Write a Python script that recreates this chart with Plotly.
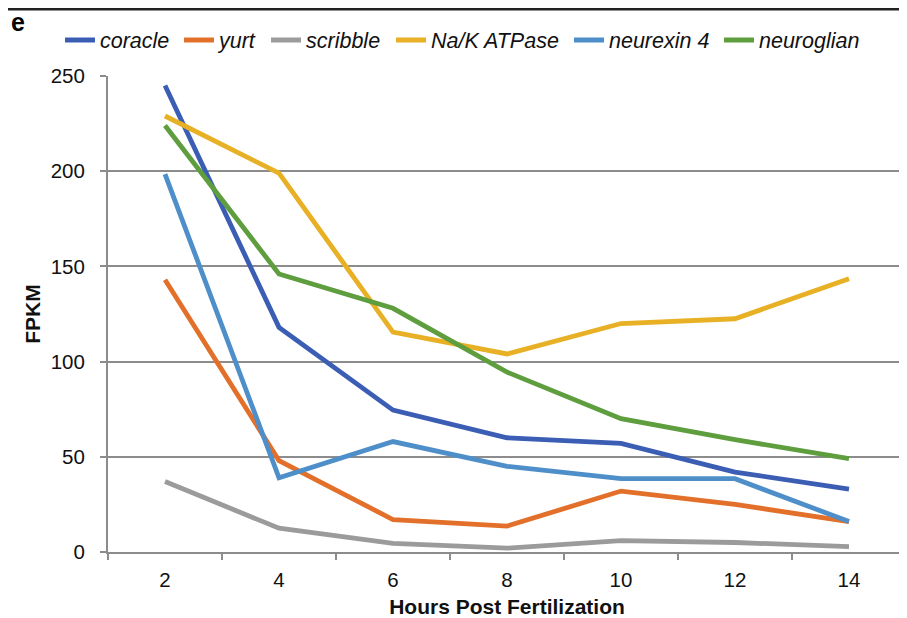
import plotly.graph_objects as go

hours = ["2", "4", "6", "8", "10", "12", "14"]
coracle = [245, 118, 74.5, 60, 57, 42, 33]
yurt = [143, 48, 17, 13.6, 32, 25, 16]
scribble = [37, 12.5, 4.5, 2, 6, 5, 2.8]
na_k_atpase = [229, 199, 115.5, 104, 120, 122.5, 143.5]
neurexin_4 = [198.5, 39, 58, 45, 38.5, 38.5, 16]
neuroglian = [224, 146, 128, 94.5, 70, 59, 49]

series = [
    ("coracle", coracle, "#3B5EB4"),
    ("yurt", yurt, "#E2702A"),
    ("scribble", scribble, "#9B9B9B"),
    ("Na/K ATPase", na_k_atpase, "#E8B024"),
    ("neurexin 4", neurexin_4, "#4F8FC9"),
    ("neuroglian", neuroglian, "#5E9E3E"),
]

# legend left positions (px) for each series' own legend box
legend_x_px = [52, 171, 258, 383, 561, 711]
L, R, T, B = 100, 1, 68, 66
W, H = 899, 610
pw = W - L - R
ph = H - T - B

fig = go.Figure()
legend_layout = {}
for i, (name, vals, col) in enumerate(series):
    lid = "legend" if i == 0 else f"legend{i + 1}"
    fig.add_trace(go.Scatter(x=hours, y=vals, mode="lines", name=name, legend=lid,
                             line=dict(color=col, width=4.8)))
    legend_layout[lid] = dict(
        orientation="h", x=(legend_x_px[i] - L) / pw, xanchor="left",
        y=1 + (T - 32) / ph, yanchor="middle",
        font=dict(size=21.5, style="italic", color="#111111"),
        bgcolor="rgba(0,0,0,0)", itemwidth=30)

grid = "#8C8C8C"
fig.update_layout(
    width=W, height=H,
    margin=dict(l=L, r=R, t=T, b=B, autoexpand=False),
    paper_bgcolor="white", plot_bgcolor="white",
    font=dict(family="Liberation Sans, Arial, sans-serif", color="#111111", size=20.5),
    showlegend=True,
    xaxis=dict(type="category", range=[-0.5, 6.5], tickson="boundaries", ticks="outside",
               ticklen=6, tickcolor=grid, tickwidth=2, showline=True, linecolor=grid,
               linewidth=2, showgrid=False, zeroline=False, ticklabelstandoff=8,
               title=dict(text="<b>Hours Post Fertilization</b>", font=dict(size=21), standoff=10)),
    yaxis=dict(range=[0, 250], tickvals=[0, 50, 100, 150, 200, 250], ticks="outside",
               ticklen=6, tickcolor=grid, tickwidth=2, showline=True, linecolor=grid,
               linewidth=2, showgrid=True, gridcolor=grid, gridwidth=2, zeroline=False,
               ticklabelstandoff=11,
               title=dict(text="<b>FPKM</b>", font=dict(size=21), standoff=4)),
    **legend_layout,
)

fig.add_annotation(text="<b>e</b>", xref="paper", yref="paper", x=(10 - L) / pw,
                   y=1 + (T - 14) / ph, xanchor="center", yanchor="middle",
                   showarrow=False, font=dict(size=25, color="black"))
fig.add_shape(type="line", xref="paper", yref="paper", x0=-0.2, x1=1.2,
              y0=1 + (T - 1) / ph, y1=1 + (T - 1) / ph, line=dict(color="#222222", width=3))

fig.write_html("out.html")
